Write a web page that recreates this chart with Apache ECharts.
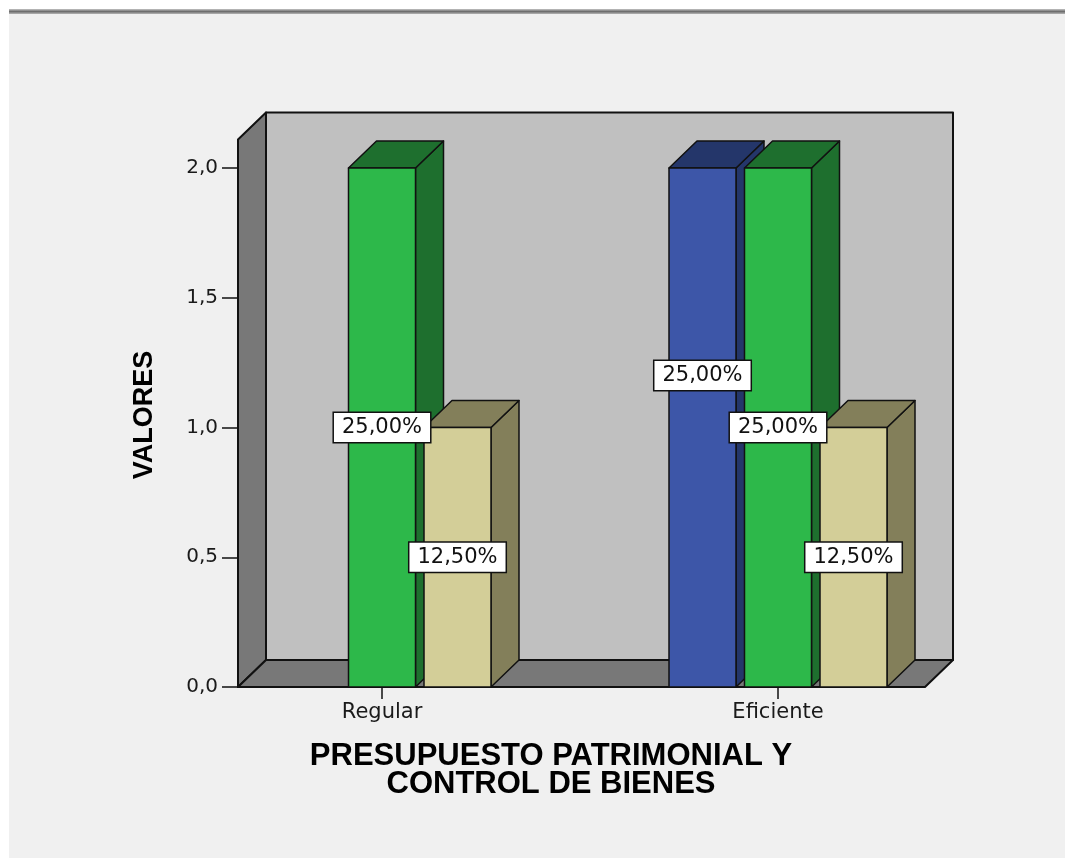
<!DOCTYPE html>
<html>
<head>
<meta charset="utf-8">
<script src="https://cdn.jsdelivr.net/npm/echarts@6/dist/echarts.min.js"></script>
<style>
html,body{margin:0;padding:0;background:#ffffff;}
#c{width:1065px;height:858px;}
</style>
</head>
<body>
<div id="c"></div>
<script>
// ---- data ----
const categories = ['Regular', 'Eficiente'];
const seriesNames = ['Serie 1', 'Serie 2', 'Serie 3'];
const blueValues = [0, 2];
const greenValues = [2, 2];
const khakiValues = [1, 1];
const yTicks = [0, 0.5, 1, 1.5, 2];
const xTitle = 'PRESUPUESTO PATRIMONIAL Y\nCONTROL DE BIENES';
const yTitle = 'VALORES';

// ---- styles ----
const allValues = [blueValues, greenValues, khakiValues];
const faceColors = [
  { front: '#3d56a8', dark: '#24366a' },
  { front: '#2db84a', dark: '#1e6f2e' },
  { front: '#d3ce98', dark: '#837f5a' }
];
const total = allValues.reduce((s, arr) => s + arr.reduce((a, b) => a + b, 0), 0);
const BAR_W = 67, BAR_PITCH = 75.5, DX = 28, DY = -27;
const GRID_LEFT = 184, GRID_RIGHT = 89, GRID_TOP = 168, GRID_BOTTOM = 171;
const Y_OFFSET = -54;
const FRAME_TOP_VALUE = 2.11;
const LABEL_SHIFT = 0.2;
const EDGE = '#111111';

function fmtPct(v) {
  return (v / total * 100).toFixed(2).replace('.', ',') + '%';
}

function makeRender(k) {
  const n = allValues.length;
  return function (params, api) {
    const cat = api.value(0);
    const val = api.value(1);
    if (!(val > 0)) return null;
    const base = api.coord([cat, 0]);
    const top = api.coord([cat, val]);
    const cx = base[0] + (k - (n - 1) / 2) * BAR_PITCH;
    const x = cx - BAR_W / 2;
    const yT = top[1], yB = base[1];
    const c = faceColors[k];
    const edge = { stroke: EDGE, lineWidth: 1.5, lineJoin: 'round' };
    const nextVal = k + 1 < n ? allValues[k + 1][cat] : null;
    const shift = nextVal === val ? LABEL_SHIFT : 0;
    const ly = api.coord([cat, val / 2 + shift])[1];
    return {
      type: 'group',
      children: [
        { type: 'polygon', shape: { points: [[x + BAR_W, yT], [x + BAR_W + DX, yT + DY], [x + BAR_W + DX, yB + DY], [x + BAR_W, yB]] },
          style: Object.assign({ fill: c.dark }, edge) },
        { type: 'polygon', shape: { points: [[x, yT], [x + DX, yT + DY], [x + BAR_W + DX, yT + DY], [x + BAR_W, yT]] },
          style: Object.assign({ fill: c.dark }, edge) },
        { type: 'rect', shape: { x: x, y: yT, width: BAR_W, height: yB - yT },
          style: Object.assign({ fill: c.front }, edge) },
        { type: 'text', z2: 100,
          style: { text: fmtPct(val), x: cx, y: ly, align: 'center', verticalAlign: 'middle',
            fontSize: 21, fontFamily: 'DejaVu Sans', fill: '#111',
            backgroundColor: '#ffffff', borderColor: '#111', borderWidth: 1.5,
            padding: [4, 8, 4, 8] } }
      ]
    };
  };
}

const chart = echarts.init(document.getElementById('c'), null, { renderer: 'canvas' });

const option = {
  backgroundColor: '#ffffff',
  animation: false,
  grid: { left: GRID_LEFT, right: GRID_RIGHT, top: GRID_TOP, bottom: GRID_BOTTOM, containLabel: false },
  xAxis: {
    type: 'category',
    data: categories,
    axisLine: { show: false },
    axisTick: { show: true, alignWithLabel: true, length: 12, lineStyle: { color: EDGE, width: 1.5 } },
    axisLabel: { margin: 15, fontSize: 21, fontFamily: 'DejaVu Sans', color: '#1a1a1a' },
    splitLine: { show: false },
    name: xTitle,
    nameLocation: 'middle',
    nameGap: 55,
    nameTextStyle: { fontFamily: 'Liberation Sans, Arial', fontWeight: 'bold', fontSize: 31, lineHeight: 28,
      color: '#000', padding: [0, 58, 0, 0] }
  },
  yAxis: {
    type: 'value',
    min: yTicks[0], max: yTicks[yTicks.length - 1], interval: yTicks[1] - yTicks[0],
    offset: Y_OFFSET,
    axisLine: { show: false },
    axisTick: { show: true, length: 16, lineStyle: { color: EDGE, width: 1.5 } },
    axisLabel: { margin: 20, fontSize: 20, fontFamily: 'DejaVu Sans', color: '#1a1a1a',
      formatter: v => v.toFixed(1).replace('.', ',') },
    splitLine: { show: false },
    name: yTitle,
    nameLocation: 'middle',
    nameGap: 80,
    nameRotate: 90,
    nameTextStyle: { fontFamily: 'Liberation Sans, Arial', fontWeight: 'bold', fontSize: 27, color: '#000',
      padding: [0, 0, 0, 25] }
  },
  series: allValues.map((vals, k) => ({
    type: 'custom',
    name: seriesNames[k],
    clip: false,
    renderItem: makeRender(k),
    encode: { x: 0, y: 1 },
    data: vals.map((v, i) => [i, v])
  }))
};
chart.setOption(option);

// ---- frame (side wall, floor, back wall) from axis scales ----
const y0 = chart.convertToPixel({ yAxisIndex: 0 }, 0);
const yTop = chart.convertToPixel({ yAxisIndex: 0 }, FRAME_TOP_VALUE);
const xc0 = chart.convertToPixel({ xAxisIndex: 0 }, categories[0]);
const xc1 = chart.convertToPixel({ xAxisIndex: 0 }, categories[categories.length - 1]);
const L = GRID_LEFT - Y_OFFSET;
const R = xc1 + (xc0 - L) + 3;
const frameStyle = { stroke: EDGE, lineWidth: 2, lineJoin: 'round' };

chart.setOption({
  graphic: [
    { type: 'rect', z: -10, shape: { x: 9, y: 14, width: 1065 - 9, height: 858 - 14 }, style: { fill: '#f0f0f0' } },
    { type: 'rect', z: -9, shape: { x: 9, y: 9, width: 1065 - 9, height: 5 },
      style: { fill: new echarts.graphic.LinearGradient(0, 0, 0, 1, [
        { offset: 0, color: '#c4c4c4' }, { offset: 0.5, color: '#6e6e6e' }, { offset: 1, color: '#b4b4b4' }]) } },
    { type: 'rect', z: 1, shape: { x: L + DX, y: yTop + DY, width: R - L, height: y0 - yTop },
      style: Object.assign({ fill: '#c0c0c0' }, frameStyle) },
    { type: 'polygon', z: 1, shape: { points: [[L, yTop], [L + DX, yTop + DY], [L + DX, y0 + DY], [L, y0]] },
      style: Object.assign({ fill: '#787878' }, frameStyle) },
    { type: 'polygon', z: 1, shape: { points: [[L, y0], [L + DX, y0 + DY], [R + DX, y0 + DY], [R, y0]] },
      style: Object.assign({ fill: '#787878' }, frameStyle) }
  ]
});
</script>
</body>
</html>
